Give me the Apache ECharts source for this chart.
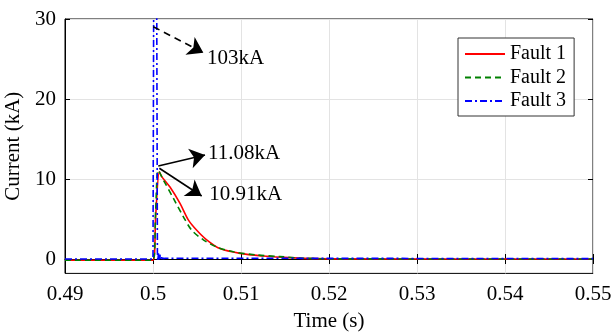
<!DOCTYPE html>
<html>
<head>
<meta charset="utf-8">
<script src="https://cdn.jsdelivr.net/npm/echarts@6/dist/echarts.min.js"></script>
<style>
  html, body { margin: 0; padding: 0; background: #fff; }
  #chart { width: 613px; height: 336px; }
</style>
</head>
<body>
<div id="chart"></div>
<script>
// time (s) and current (kA)
const fault1T = [0.49, 0.5, 0.5003, 0.50072, 0.50099, 0.50193, 0.50307, 0.50401, 0.50497, 0.5061, 0.50761, 0.50989, 0.51253, 0.5148, 0.517, 0.52, 0.55];
const fault1I = [-0.15, -0.15, 5.3, 10.91, 10.3, 9.0, 6.96, 4.9, 3.6, 2.4, 1.3, 0.7, 0.37, 0.2, 0.08, 0.02, 0.0];

const fault2T = [0.49, 0.5, 0.5003, 0.5006, 0.50117, 0.50231, 0.50344, 0.5044, 0.50572, 0.50724, 0.50913, 0.51178, 0.51443, 0.517, 0.52, 0.55];
const fault2I = [-0.15, -0.15, 6.0, 11.08, 9.9, 7.6, 5.3, 3.6, 2.4, 1.5, 0.9, 0.5, 0.3, 0.1, 0.02, 0.0];

const fault3T = [0.49, 0.5, 0.50025, 0.5005, 0.50055, 0.50062, 0.50069, 0.50078, 0.50088, 0.501, 0.50112, 0.50125, 0.5014, 0.5016, 0.55];
const fault3I = [0.0, 0.0, 103, 0.8, -0.3, 0.7, -0.2, 0.55, -0.05, 0.4, 0.05, 0.25, 0.1, 0.05, 0.05];

const yTicks = [0, 10, 20, 30];

// annotation arrows [startT, startI, endT, endI, style] and labels [t, I, text]
const arrows = [
  [0.50003, 29.04, 0.50572, 25.79, 'dashed'],
  [0.50060, 11.62, 0.50591, 13.0, 'solid'],
  [0.50072, 11.34, 0.50553, 7.88, 'solid']
];
const notes = [
  [0.50614, 25.06, '103kA'],
  [0.50625, 13.16, '11.08kA'],
  [0.50640, 8.1, '10.91kA']
];

const font = "'Liberation Serif', 'Times New Roman', serif";
const zip = (t, v) => t.map((x, i) => [x, v[i]]);

const chart = echarts.init(document.getElementById('chart'));

const gridLine = { show: true, lineStyle: { color: '#e3e3e3', width: 1 } };
const tickIn = { show: true, inside: true, length: 5, lineStyle: { color: '#000' } };

chart.setOption({
  animation: false,
  backgroundColor: '#fff',
  grid: {
    left: 65, right: 20, top: 19, bottom: 62.6,
    outerBoundsMode: 'none', containLabel: false,
    show: true, borderColor: '#000', borderWidth: 1
  },
  legend: {
    orient: 'vertical',
    left: 458,
    top: 38,
    padding: [6, 8, 5, 6],
    itemWidth: 40,
    itemHeight: 12,
    itemGap: 3.5,
    itemStyle: { opacity: 0 },
    borderColor: '#333',
    borderWidth: 1,
    backgroundColor: '#fff',
    textStyle: { fontFamily: font, fontSize: 20, color: '#000', lineHeight: 20 },
    data: ['Fault 1', 'Fault 2', 'Fault 3']
  },
  xAxis: [
    {
      type: 'value', min: 0.49, max: 0.55, interval: 0.01,
      name: 'Time (s)', nameLocation: 'middle', nameGap: 38,
      nameTextStyle: { fontFamily: font, fontSize: 21, color: '#000' },
      axisLine: { show: true, lineStyle: { color: '#000' } },
      axisTick: tickIn,
      splitLine: gridLine,
      axisLabel: {
        fontFamily: font, fontSize: 21, color: '#000', margin: 11,
        formatter: v => String(parseFloat(v.toFixed(2)))
      }
    },
    {
      type: 'value', position: 'top', min: 0.49, max: 0.55, interval: 0.01,
      axisLine: { show: false }, axisTick: tickIn, axisLabel: { show: false }, splitLine: { show: false }
    }
  ],
  yAxis: [
    {
      type: 'value', min: -1.8, max: 30,
      name: 'Current (kA)', nameLocation: 'middle', nameGap: 38,
      nameTextStyle: { fontFamily: font, fontSize: 21, color: '#000' },
      axisLine: { show: true, lineStyle: { color: '#000' } },
      axisTick: Object.assign({ customValues: yTicks }, tickIn),
      splitLine: gridLine,
      axisLabel: { fontFamily: font, fontSize: 21, color: '#000', margin: 9, customValues: yTicks }
    },
    {
      type: 'value', position: 'right', min: -1.8, max: 30,
      axisLine: { show: false },
      axisTick: Object.assign({ customValues: yTicks }, tickIn),
      axisLabel: { show: false, customValues: yTicks },
      splitLine: { show: false }
    }
  ],
  series: [
    {
      name: 'Fault 1', type: 'line', symbol: 'none', smooth: 0.3, clip: true,
      data: zip(fault1T, fault1I),
      lineStyle: { color: '#ff0000', width: 1.6 }, itemStyle: { color: '#ff0000' }
    },
    {
      name: 'Fault 2', type: 'line', symbol: 'none', smooth: 0.3, clip: true,
      data: zip(fault2T, fault2I),
      lineStyle: { color: '#008000', width: 1.6, type: [6, 4] }, itemStyle: { color: '#008000' }
    },
    {
      name: 'Fault 3', type: 'line', symbol: 'none', clip: true,
      data: zip(fault3T, fault3I),
      lineStyle: { color: '#0000ff', width: 1.6, type: [7, 3, 2, 3] }, itemStyle: { color: '#0000ff' },
      markLine: {
        silent: true,
        symbol: ['none', 'arrow'],
        symbolSize: 15,
        label: { show: false },
        lineStyle: { color: '#000', width: 1.6 },
        data: arrows.map(a => [
          { coord: [a[0], a[1]], lineStyle: { color: '#000', width: 1.6, type: a[4] === 'dashed' ? [7, 5] : 'solid' } },
          { coord: [a[2], a[3]] }
        ])
      },
      markPoint: {
        silent: true,
        symbol: 'circle',
        symbolSize: 0,
        data: notes.map(n => ({
          coord: [n[0], n[1]],
          label: {
            show: true, position: 'right', distance: 0, formatter: n[2],
            fontFamily: font, fontSize: 21, color: '#000'
          }
        }))
      }
    }
  ]
});
</script>
</body>
</html>
